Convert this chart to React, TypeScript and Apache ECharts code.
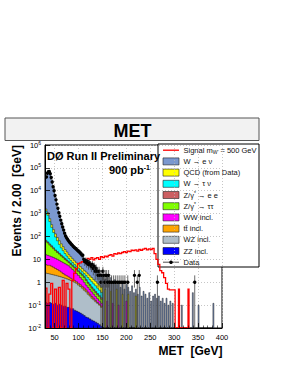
import React, { useEffect, useRef } from "react";
import * as echarts from "echarts";

const FONT = "'Liberation Sans', Arial, Helvetica, sans-serif";

const X_MIN = 30;
const X_MAX = 400;
const Y_MIN = 0.01;
const Y_MAX = 1e6;

// lower edges of the 4 GeV bins (30–150 GeV) used for the stacked backgrounds
const binLow = [30, 34, 38, 42, 46, 50, 54, 58, 62, 66, 70, 74, 78, 82, 86, 90, 94, 98, 102, 106, 110, 114, 118, 122, 126, 130, 134, 138, 142, 146];
const BIN_W = 4;

// top edge of each stacked layer (cumulative), per bin
const wenuTop = [42000, 63000, 60000, 30000, 13000, 5000, 2000, 900, 450, 220, 120, 82, 62, 49, 40, 33, 27.5, 23, 19, 15.5, 11, 9.5, 8.5, 7, 5.5, 4.5, 3.6, 3, 2.4, 2];
const qcdTop = [1600, 1100, 600, 330, 200, 130, 90, 65, 48, 36, 27, 21, 16, 13, 10.5, 8.5, 7, 5.8, 4.8, 4, 3.3, 2.8, 2.3, 1.9, 1.6, 1.3, 1.1, 0.9, 0.75, 0.6];
const wtaunuTop = [1300, 850, 450, 250, 150, 95, 65, 45, 32, 24, 18, 14, 11, 9, 7.3, 6, 5, 4.2, 3.5, 2.9, 2.4, 2, 1.6, 1.3, 1.05, 0.85, 0.7, 0.55, 0.45, 0.36];
const zeeTop = [68, 58, 47, 39, 32, 26, 22, 18.5, 15.5, 13, 11, 9.3, 7.9, 6.6, 5.5, 4.6, 3.8, 3.2, 2.6, 2.2, 1.8, 1.35, 1.0, 0.8, 0.62, 0.5, 0.4, 0.32, 0.26, 0.21];
const zttTop = [60, 52, 42, 35, 29, 24, 20, 17, 14, 12, 10, 8.5, 7.2, 6, 5, 4.2, 3.5, 2.9, 2.4, 2, 1.6, 1.2, 0.9, 0.7, 0.55, 0.44, 0.35, 0.28, 0.23, 0.18];
const wwTop = [16, 15, 14, 13, 12, 11, 10, 9, 8, 7.2, 6.5, 5.8, 5.2, 4.3, 3.6, 3, 2.4, 2, 1.6, 1.3, 1, 0.75, 0.6, 0.48, 0.38, 0.3, 0.24, 0.19, 0.15, 0.12];
const ttTop = [5.9, 5.5, 5.5, 5, 4.5, 4, 3.6, 3.2, 2.8, 2.4, 2.1, 1.9, 1.7, 1.5, 1.35, 1.2, 1.05, 0.9, 0.78, 0.66, 0.56, 0.46, 0.37, 0.3, 0.24, 0.2, 0.16, 0.13, 0.11, 0.09];
const wzTop = [2.5, 2.4, 2.3, 2.2, 2.1, 2, 1.9, 1.8, 1.7, 1.6, 1.5, 1.4, 1.3, 1.2, 1.1, 1.0, 0.9, 0.75, 0.65, 0.55, 0.45, 0.38, 0.3, 0.25, 0.2, 0.17, 0.14, 0.12, 0.1, 0.08];
const zzTop = [0.13, 0.12, 0.13, 0.12, 0.11, 0.12, 0.1, 0.11, 0.1, 0.09, 0.09, 0.08, 0.08, 0.07, 0.07, 0.06, 0.055, 0.05, 0.045, 0.04, 0.035, 0.03, 0.028, 0.025, 0.022, 0.02, 0.018, 0.016, 0.014, 0.012];

// sparse 2 GeV tail bins beyond 150 GeV: [centre, stacked top]
const wenuTail = [[152, 1.8], [156, 1.4], [160, 2.2], [164, 1.2], [168, 1.6], [172, 0.9], [176, 1.3], [180, 0.8], [184, 1.1], [188, 0.6], [192, 0.9], [196, 0.5], [200, 0.8], [204, 0.6], [208, 0.4], [212, 0.7], [216, 0.35], [220, 0.5], [224, 0.3], [228, 0.6], [232, 0.25], [236, 0.4], [240, 0.3], [244, 0.2], [248, 0.35], [252, 0.15], [256, 0.25], [260, 0.3], [264, 0.2], [268, 0.25], [272, 0.15], [276, 0.2], [280, 0.12], [284, 0.2], [288, 0.1], [292, 0.15], [297, 0.12], [316, 0.1], [339, 0.35], [351, 0.1], [382, 0.12]];
const qcdTail = [[156, 0.5], [168, 0.4], [180, 0.5], [192, 0.3], [204, 0.3], [220, 0.25]];
const wwTail = [[160, 0.15], [172, 0.12], [184, 0.1], [200, 0.15]];

// signal m_W' = 500 GeV, 4 GeV bins from 30 GeV
const SIG_START = 30;
const signalVals = [0.55, 0, 0.3, 0.9, 0, 0.5, 0, 0.6, 0, 1.2, 0, 0.9, 0.5, 0, 1.2, 2.5, 4, 6.5, 7, 8, 7.5, 9, 11, 10, 12, 9.5, 11, 12, 10, 13, 12, 14, 13, 15, 16, 14, 18, 17, 19, 18, 20, 22, 20, 23, 22, 25, 24, 26, 23, 27, 25, 28, 30, 26, 29, 27, 30, 18, 10, 6, 3.2, 2.6, 1.6, 0.9, 0.5, 0.46, 0.46, 0.46];
const signalSpikes = [[310, 0.5], [330, 0.5]];

// data points
const dataX = [33, 35, 37, 39, 41, 43, 45, 47, 49,
  51, 53, 55, 57, 59, 61, 63, 65, 67, 69,
  71, 73, 75, 77, 79, 81, 83, 85, 87, 89,
  91, 93, 95, 97, 99, 101, 103, 105, 107, 109,
  111, 113, 115, 117, 119, 121, 123, 125, 127, 129,
  131, 133, 135, 137, 139, 141, 143, 145, 147, 149,
  151, 153, 155, 157, 159, 161, 163, 165,
  169, 173, 177, 181, 185, 189, 193, 197, 203, 217, 223, 227, 265, 343];
const dataN = [40000, 58000, 68000, 69000, 55000, 38000, 24000, 15000, 10000,
  6200, 4000, 2600, 1700, 1100, 760, 520, 360, 260, 190,
  140, 105, 88, 76, 66, 58, 52, 46, 42, 37,
  34, 31, 29, 26, 24, 22, 20, 18, 16, 15,
  10, 8, 9, 7, 8, 6, 7, 6, 5, 6,
  4, 5, 3, 4, 3, 2, 3, 2, 1, 2,
  3, 2, 1, 2, 2, 1, 2, 1,
  1, 1, 1, 1, 1, 1, 1, 1, 1, 2, 1, 2, 1, 1];

const C = {
  signal: "#ff0000",
  wenu: "#7b98cf",
  qcd: "#ffff00",
  wtaunu: "#00ffff",
  zee: "#cc5f62",
  ztt: "#80ff00",
  ww: "#ff00ff",
  tt: "#ffa500",
  wz: "#afbec9",
  zz: "#0000ff",
};

const yTickLabels: Record<number, string> = { [-2]: "{b|10}{s|-2}", [-1]: "{b|10}{s|-1}", 0: "{b|1}", 1: "{b|10}", 2: "{b|10}{s|2}", 3: "{b|10}{s|3}", 4: "{b|10}{s|4}", 5: "{b|10}{s|5}", 6: "{b|10}{s|6}" };

type Bin = [number, number, number];

function stepPoints(bins: Bin[], api: any): number[][] {
  const pts: number[][] = [];
  let prev: number | null = null;
  for (const [x0, x1, v] of bins) {
    const y = Math.max(v, Y_MIN);
    if (prev === null || Math.abs(x0 - prev) > 1e-9) {
      if (prev !== null) pts.push(api.coord([prev, Y_MIN]));
      pts.push(api.coord([x0, Y_MIN]));
    }
    pts.push(api.coord([x0, y]));
    pts.push(api.coord([x1, y]));
    prev = x1;
  }
  if (prev !== null) pts.push(api.coord([prev, Y_MIN]));
  return pts;
}

function layer(name: string, color: string, top: number[], tail: number[][]) {
  const bins: Bin[] = top
    .map((v, i) => [binLow[i], binLow[i] + BIN_W, v] as Bin)
    .concat(tail.map(([c, v]) => [c - 1, c + 1, v] as Bin));
  return {
    type: "custom",
    name,
    xAxisIndex: 1,
    yAxisIndex: 1,
    clip: true,
    silent: true,
    data: [[binLow[0], top[0]]],
    renderItem: (_p: any, api: any) => ({
      type: "polygon",
      shape: { points: stepPoints(bins, api) },
      style: { fill: color, stroke: "#1a1a1a", lineWidth: 0.5 },
    }),
  };
}

function buildOption() {
  const signalBins: Bin[] = signalVals
    .map((v, i) => [SIG_START + i * BIN_W, SIG_START + (i + 1) * BIN_W, v] as Bin)
    .concat(signalSpikes.map(([c, v]) => [c - 1, c + 1, v] as Bin));

  const series: any[] = [
    layer("W → e ν", C.wenu, wenuTop, wenuTail),
    layer("QCD (from Data)", C.qcd, qcdTop, qcdTail),
    layer("W → τ ν", C.wtaunu, wtaunuTop, []),
    layer("Z/γ* → e e", C.zee, zeeTop, []),
    layer("Z/γ* → ττ", C.ztt, zttTop, []),
    layer("WW incl.", C.ww, wwTop, wwTail),
    layer("tt incl.", C.tt, ttTop, []),
    layer("WZ incl.", C.wz, wzTop, []),
    layer("ZZ incl.", C.zz, zzTop, []),
    {
      type: "custom",
      name: "Signal",
      xAxisIndex: 1,
      yAxisIndex: 1,
      clip: true,
      silent: true,
      data: [[SIG_START, 1]],
      renderItem: (_p: any, api: any) => ({
        type: "polyline",
        shape: { points: stepPoints(signalBins, api) },
        style: { fill: "none", stroke: C.signal, lineWidth: 1.3 },
      }),
    },
    {
      type: "custom",
      name: "Data",
      xAxisIndex: 1,
      yAxisIndex: 1,
      clip: true,
      silent: true,
      data: dataX.map((x, i) => [x, dataN[i]]),
      renderItem: (_p: any, api: any) => {
        const x = api.value(0);
        const n = api.value(1);
        const e = Math.sqrt(n);
        const c = api.coord([x, n]);
        const a = api.coord([x, Math.max(n - e, Y_MIN)]);
        const b = api.coord([x, n + e]);
        return {
          type: "group",
          children: [
            { type: "line", shape: { x1: a[0], y1: a[1], x2: b[0], y2: b[1] }, style: { stroke: "#444", lineWidth: 0.8 } },
            { type: "circle", shape: { cx: c[0], cy: c[1], r: 1.7 }, style: { fill: "#000" } },
          ],
        };
      },
    },
  ];

  const legendRows = [
    { kind: "line", color: C.signal, text: "{t|Signal m}{sub|W'}{t| = 500 GeV}" },
    { kind: "box", color: C.wenu, text: "{t|W → e ν}" },
    { kind: "box", color: C.qcd, text: "{t|QCD (from Data)}" },
    { kind: "box", color: C.wtaunu, text: "{t|W → τ ν}" },
    { kind: "box", color: C.zee, text: "{t|Z/γ}{sup|*}{t| → e e}" },
    { kind: "box", color: C.ztt, text: "{t|Z/γ}{sup|*}{t| → ττ}" },
    { kind: "box", color: C.ww, text: "{t|WW incl.}" },
    { kind: "box", color: C.tt, text: "{t|tt̄ incl.}" },
    { kind: "box", color: C.wz, text: "{t|WZ incl.}" },
    { kind: "box", color: C.zz, text: "{t|ZZ incl.}" },
    { kind: "data", color: "#000", text: "{t|Data}" },
  ];
  const legRich = {
    t: { fontSize: 7.5, fontFamily: FONT, fill: "#111", color: "#111" },
    sub: { fontSize: 5, fontFamily: FONT, fill: "#111", color: "#111", padding: [4, 0, 0, 0] },
    sup: { fontSize: 5, fontFamily: FONT, fill: "#111", color: "#111", padding: [0, 0, 4, 0] },
  };
  const LX = 158, LY = 144, LW = 101, LH = 123;
  const legendChildren: any[] = [
    { type: "rect", shape: { x: LX, y: LY, width: LW, height: LH }, style: { fill: "#fff", stroke: "#000", lineWidth: 1 } },
  ];
  legendRows.forEach((r, i) => {
    const cy = LY + 6.2 + i * 11.2;
    if (r.kind === "box") {
      legendChildren.push({ type: "rect", shape: { x: 163, y: cy - 3.5, width: 16, height: 7 }, style: { fill: r.color, stroke: "#222", lineWidth: 0.6 } });
    } else if (r.kind === "line") {
      legendChildren.push({ type: "line", shape: { x1: 163, y1: cy, x2: 179, y2: cy }, style: { stroke: r.color, lineWidth: 1.3 } });
    } else {
      legendChildren.push({ type: "line", shape: { x1: 163, y1: cy, x2: 179, y2: cy }, style: { stroke: "#222", lineWidth: 0.8 } });
      legendChildren.push({ type: "circle", shape: { cx: 171, cy, r: 1.8 }, style: { fill: "#000" } });
    }
    legendChildren.push({
      type: "text",
      x: 183.5,
      y: cy,
      style: { text: r.text, rich: legRich, textVerticalAlign: "middle", verticalAlign: "middle", textAlign: "left", align: "left", fill: "#111" },
    });
  });

  return {
    animation: false,
    backgroundColor: "#fff",
    textStyle: { fontFamily: FONT },
    grid: { left: 45, top: 145, width: 177, height: 183, containLabel: false, outerBoundsMode: "none", show: true, borderColor: "#000", borderWidth: 1, backgroundColor: "transparent" },
    xAxis: [
      {
        type: "value", min: X_MIN, max: X_MAX, splitNumber: 8, position: "bottom", z: 0,
        axisLine: { show: false }, axisTick: { show: false }, axisLabel: { show: false },
        splitLine: { show: true, lineStyle: { color: "#b8b8b8", width: 0.8, type: [1, 2] } },
      },
      {
        type: "value", min: X_MIN, max: X_MAX, splitNumber: 8, position: "bottom", z: 10,
        axisLine: { show: true, onZero: false, lineStyle: { color: "#000", width: 1 } },
        axisTick: { show: true, inside: true, length: 5, lineStyle: { color: "#000", width: 0.8 } },
        minorTick: { show: true, splitNumber: 5, length: 2.5, lineStyle: { color: "#000", width: 0.6 } },
        splitLine: { show: false },
        axisLabel: { show: true, showMinLabel: false, margin: 5, fontSize: 7.5, color: "#000", fontFamily: FONT, formatter: (v: number) => String(v) },
      },
    ],
    yAxis: [
      {
        type: "log", logBase: 10, min: Y_MIN, max: Y_MAX, splitNumber: 8, position: "left", z: 0,
        axisLine: { show: false }, axisTick: { show: false }, axisLabel: { show: false },
        splitLine: { show: true, lineStyle: { color: "#b8b8b8", width: 0.8, type: [1, 2] } },
      },
      {
        type: "log", logBase: 10, min: Y_MIN, max: Y_MAX, splitNumber: 8, position: "left", z: 10,
        axisLine: { show: true, onZero: false, lineStyle: { color: "#000", width: 1 } },
        axisTick: { show: true, inside: true, length: 5, lineStyle: { color: "#000", width: 0.8 } },
        splitLine: { show: false },
        axisLabel: {
          show: true, margin: 4, color: "#000",
          formatter: (v: number) => yTickLabels[Math.round(Math.log10(v))] ?? "",
          rich: {
            b: { fontSize: 7.5, fontFamily: FONT, color: "#000" },
            s: { fontSize: 5, fontFamily: FONT, color: "#000", padding: [0, 0, 5, 0] },
          },
        },
      },
    ],
    series,
    graphic: [
      // title box
      { type: "rect", z: 50, shape: { x: 5, y: 118, width: 254, height: 22.5 }, style: { fill: "#f2f2f2", stroke: "#555", lineWidth: 1 } },
      { type: "text", z: 51, x: 132.5, y: 130.5, style: { text: "MET", font: `bold 18px ${FONT}`, fill: "#000", textAlign: "center", align: "center", textVerticalAlign: "middle", verticalAlign: "middle" } },
      // labels inside plot
      { type: "text", z: 60, x: 47, y: 155.5, style: { text: "DØ Run II Preliminary", font: `bold 11px ${FONT}`, fill: "#000", textAlign: "left", align: "left", textVerticalAlign: "middle", verticalAlign: "middle" } },
      {
        type: "text", z: 60, x: 150, y: 170,
        style: {
          text: "{b|900 pb}{s|-1}", textAlign: "right", align: "right", textVerticalAlign: "middle", verticalAlign: "middle",
          rich: { b: { font: `bold 11px ${FONT}`, fontSize: 11, fontWeight: "bold", fontFamily: FONT, fill: "#000", color: "#000" }, s: { fontSize: 7, fontWeight: "bold", fontFamily: FONT, fill: "#000", color: "#000", padding: [0, 0, 6, 0] } },
        },
      },
      // axis titles
      { type: "text", z: 60, x: 222.5, y: 351, style: { text: "MET  [GeV]", font: `bold 12px ${FONT}`, fill: "#000", textAlign: "right", align: "right", textVerticalAlign: "middle", verticalAlign: "middle" } },
      { type: "text", z: 60, x: 16.5, y: 145, rotation: Math.PI / 2, style: { text: "Events / 2.00  [GeV]", font: `bold 12px ${FONT}`, fill: "#000", textAlign: "right", align: "right", textVerticalAlign: "middle", verticalAlign: "middle" } },
      // legend
      { type: "group", z: 100, children: legendChildren },
    ],
  };
}

export default function App() {
  const ref = useRef<HTMLDivElement>(null);
  useEffect(() => {
    if (!ref.current) return;
    const chart = echarts.init(ref.current, undefined, { renderer: "svg", width: 286, height: 370 });
    chart.setOption(buildOption() as any);
    return () => chart.dispose();
  }, []);
  return <div ref={ref} style={{ position: "fixed", left: 0, top: 0, width: 286, height: 370, background: "#fff" }} />;
}
